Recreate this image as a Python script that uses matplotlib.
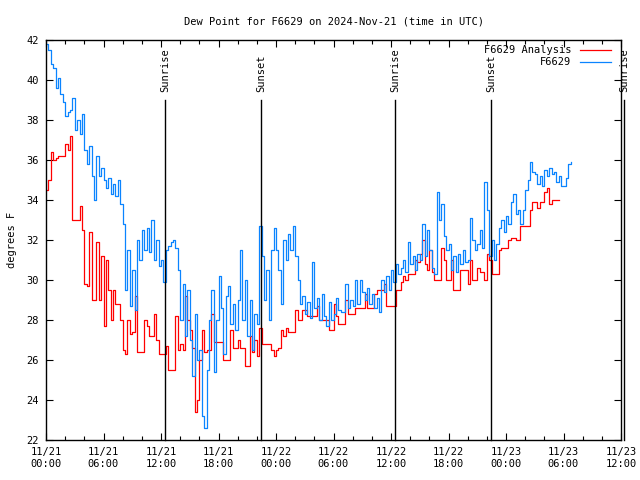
import matplotlib
matplotlib.use('Agg')
import matplotlib.pyplot as plt
import numpy as np

# hours since 2024-11-21 00:00 UTC, sampled every 15 minutes
step = 0.25

analysis = [
    34.5, 35.0, 36.4, 36.0, 36.1, 36.2, 36.2, 36.2, 36.8, 36.5, 37.2, 33.0,
    33.0, 33.0, 33.7, 32.5, 29.8, 29.7, 32.4, 29.0, 29.0, 31.9, 29.0, 31.2,
    27.7, 31.0, 29.5, 28.0, 29.5, 28.8, 28.8, 28.0, 26.5, 26.3, 28.0, 27.3,
    27.4, 29.2, 26.4, 26.4, 26.4, 28.0, 27.7, 27.2, 27.2, 28.3, 27.0, 26.3,
    26.3, 26.3, 26.7, 25.5, 25.5, 25.5, 28.2, 26.5, 26.8, 26.5, 29.2, 28.0,
    27.5, 26.6, 23.4, 24.0, 26.0, 27.5, 26.4, 26.5, 26.5, 28.3, 26.9, 26.9,
    26.9, 26.9, 26.0, 26.0, 26.0, 27.5, 26.6, 26.6, 27.0, 26.6, 26.6, 25.7,
    25.7, 27.2, 26.4, 27.0, 26.2, 27.6, 26.8, 26.8, 26.8, 26.8, 26.5, 26.2,
    26.5, 26.6, 27.5, 27.2, 27.6, 27.4, 27.4, 27.4, 28.5, 28.0, 28.0, 28.5,
    28.5, 28.2, 28.2, 28.2, 28.2, 28.7, 28.0, 28.0, 28.0, 28.0, 27.5, 27.5,
    28.8, 28.2, 27.8, 27.8, 27.8, 29.0, 28.3, 28.3, 28.3, 28.6, 28.6, 28.6,
    28.6, 29.3, 28.6, 28.6, 28.6, 29.3, 29.5, 29.5, 29.5, 29.8, 28.7, 28.7,
    28.7, 28.7, 29.5, 29.5, 29.9, 30.2, 30.0, 30.3, 30.3, 30.3, 31.0, 30.9,
    31.3, 32.0, 30.8, 30.5, 31.5, 30.4, 30.0, 30.0, 30.0, 31.6, 31.0, 30.0,
    30.0, 31.0, 29.5, 29.5, 29.5, 30.5, 30.5, 30.5, 29.8, 31.0, 30.0, 30.0,
    30.6, 30.4, 30.4, 30.0, 31.3, 31.0, 30.3, 30.3, 30.3, 31.5, 31.6, 31.6,
    31.6, 32.0, 32.1, 32.1, 32.0, 32.0, 32.7, 32.7, 32.7, 32.7, 33.5, 33.9,
    33.9, 33.6, 33.9, 33.9, 34.4, 34.6, 33.8, 34.0, 34.0, 34.0, 34.0,
]

station = [
    41.8, 41.5, 40.8, 40.6, 39.6, 40.1, 39.3, 38.9, 38.2, 38.4, 38.5, 39.1,
    37.5, 38.0, 37.3, 38.3, 36.5, 35.8, 36.7, 35.2, 34.0, 36.2, 35.2, 35.6,
    35.0, 34.6, 35.1, 34.3, 34.8, 34.2, 35.0, 33.8, 32.8, 29.5, 31.5, 28.7,
    30.5, 28.5, 32.0, 31.0, 32.5, 31.5, 32.6, 31.4, 33.0, 31.0, 32.0, 30.7,
    31.0, 29.9, 31.5, 31.7, 31.9, 32.0, 31.6, 30.5, 28.0, 29.8, 27.2, 29.5,
    27.0, 25.2, 28.3, 26.0, 26.5, 23.2, 22.6, 25.5, 28.0, 29.5, 25.4, 28.0,
    30.2, 28.6, 26.3, 29.2, 29.7, 27.8, 28.8, 27.5, 29.0, 31.5, 28.0, 30.0,
    27.2, 29.0, 26.5, 28.3, 27.8, 32.7, 31.2, 29.0, 30.5, 28.0, 31.5, 32.6,
    31.5, 30.5, 28.8, 32.0, 31.0, 32.3, 31.5, 32.7, 31.2, 30.0, 28.8, 29.2,
    28.3, 28.9, 28.1, 30.9, 28.6, 29.1, 28.0, 29.3, 28.2, 27.7, 28.9, 28.0,
    28.3, 29.1, 28.5, 28.4, 28.4, 29.8, 28.6, 29.0, 28.7, 30.0, 28.8, 30.0,
    29.4, 29.0, 29.6, 28.8, 29.3, 28.6, 29.1, 28.4, 30.0, 29.4, 30.2, 29.5,
    30.5, 29.9, 30.8, 30.3, 30.6, 31.0, 30.4, 31.9, 30.8, 31.2, 30.5, 31.3,
    31.0, 32.8, 31.2, 32.5, 31.5, 30.6, 30.3, 34.4, 33.0, 33.8, 32.2, 31.5,
    31.8, 30.5, 31.2, 30.4, 31.3, 30.8, 31.5, 30.9, 31.0, 33.1, 32.0, 31.5,
    31.8, 32.5, 31.6, 34.9, 33.5, 31.2, 32.0, 31.0, 31.8, 32.6, 33.0, 32.4,
    33.2, 32.8, 33.9, 34.3, 33.3, 33.5, 32.8, 33.5, 34.5, 35.0, 35.9, 35.4,
    35.3, 34.8, 35.2, 34.7, 35.5, 35.2, 35.6, 35.3, 35.4, 34.9, 35.2, 34.7,
    34.7, 35.1, 35.8, 35.9,
]

sun_events = [(12.42, 'Sunrise'), (22.43, 'Sunset'), (36.42, 'Sunrise'),
              (46.45, 'Sunset'), (60.33, 'Sunrise')]

xtick_hours = [0, 6, 12, 18, 24, 30, 36, 42, 48, 54, 60]
xtick_labels = ['11/21\n00:00', '11/21\n06:00', '11/21\n12:00', '11/21\n18:00',
                '11/22\n00:00', '11/22\n06:00', '11/22\n12:00', '11/22\n18:00',
                '11/23\n00:00', '11/23\n06:00', '11/23\n12:00']

plt.rcParams['font.family'] = ['DejaVu Sans Mono']
plt.rcParams['font.size'] = 7.5

t_a = np.arange(len(analysis)) * step
t_s = np.arange(len(station)) * step

fig = plt.figure(figsize=(6.4, 4.8), dpi=100)
ax = fig.add_axes([46 / 640, 40 / 480, 575 / 640, 400 / 480])

ax.plot(t_a, analysis, color='#ff0000', lw=0.9, drawstyle='steps-post',
        label='F6629 Analysis')
ax.plot(t_s, station, color='#0a84ff', lw=0.9, drawstyle='steps-post',
        label='F6629')

for hr, name in sun_events:
    ax.plot([hr, hr], [22, 39], color='black', lw=1.0, clip_on=False)
    ax.text(hr, 39.4, name, rotation=90, ha='center', va='bottom',
            clip_on=False)

ax.set_xlim(0, 60)
ax.set_ylim(22, 42)
ax.set_xticks(xtick_hours)
ax.set_xticklabels(xtick_labels)
ax.set_xticks(np.arange(0, 61, 2), minor=True)
ax.set_yticks(np.arange(22, 43, 2))
ax.tick_params(which='both', direction='in', top=True, right=True, width=0.8)
ax.tick_params(which='major', length=5, pad=5)
ax.tick_params(which='minor', length=3)
for s in ax.spines.values():
    s.set_linewidth(1.0)

ax.set_ylabel('degrees F', labelpad=7)
ax.set_title('Dew Point for F6629 on 2024-Nov-21 (time in UTC)',
             fontsize=7.5, pad=11)

ax.legend(loc='upper right', frameon=False, markerfirst=False,
          handlelength=3.0, borderaxespad=0.1, labelspacing=0.2,
          handletextpad=0.8, bbox_to_anchor=(0.992, 1.0))

fig.savefig('out.png', dpi=100)
